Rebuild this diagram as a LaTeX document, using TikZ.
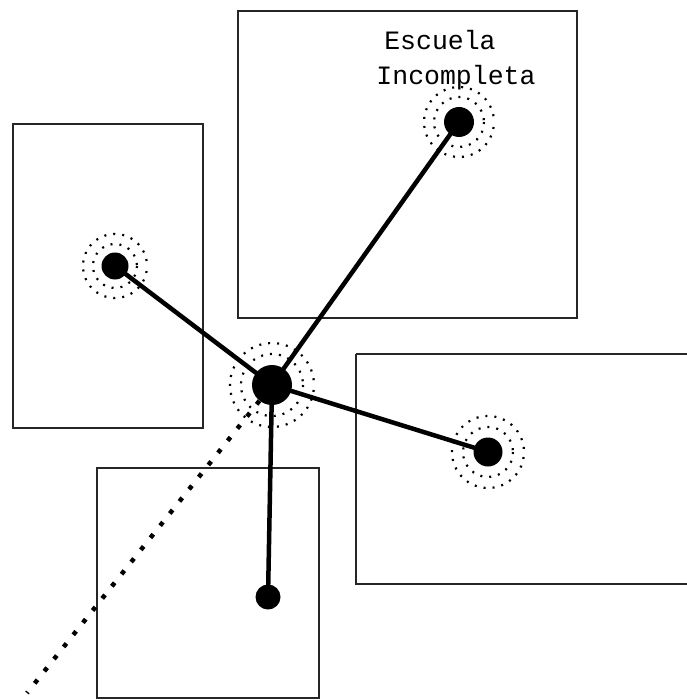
\documentclass[tikz,border=0pt]{standalone}
\usepackage{fontspec}
\newfontfamily\labelfont{Liberation Mono}
\begin{document}
\begin{tikzpicture}[x=1pt,y=-1pt,
  zone/.style={draw=black!85,line width=1.6pt},
  spot/.style={circle,fill=black,inner sep=0pt,minimum size=#1},
  link/.style={line width=4.5pt,line cap=round},
  halo/.style={line width=2.2pt,dash pattern=on 2pt off 7pt},
  trail/.style={line width=4.5pt,dash pattern=on 4.5pt off 11pt}]
\useasboundingbox (0,0) rectangle (686,700);
\fill[white] (0,0) rectangle (686,700);

% service areas
\draw[zone] (238,11) rectangle (577,318);
\draw[zone] (13,124) rectangle (203,428);
\draw[zone] (356,354) -- (690,354);
\draw[zone] (356,354) -- (356,584) -- (690,584);
\draw[zone] (97,698) -- (97,468) -- (319,468) -- (319,698) -- cycle;

% label
\node[font=\labelfont\fontsize{26.5}{30}\selectfont,anchor=center] (lab1) at (440,40) {Escuela};
\node[font=\labelfont\fontsize{26.5}{30}\selectfont,anchor=center] (lab2) at (456,78) {Incompleta};

% locations
\node[spot=40pt] (c) at (272,385) {};
\node[spot=30pt] (t) at (459,122) {};
\node[spot=27pt] (l) at (115,266) {};
\node[spot=29pt] (r) at (488,452) {};
\node[spot=25pt] (b) at (268,597) {};
\coordinate (far) at (27,693);

% scattered rings
\foreach \p/\ra/\rb in {c/31/42, t/25/35, l/22/32, r/25/36}{
  \draw[halo] (\p) circle (\ra);
  \draw[halo,dash phase=4pt] (\p) circle (\rb);
}

% links
\draw[link] (c) -- (t);
\draw[link] (c) -- (l);
\draw[link] (c) -- (r);
\draw[link] (c) -- (b);
\draw[trail] (c) -- (far);
\end{tikzpicture}
\end{document}
